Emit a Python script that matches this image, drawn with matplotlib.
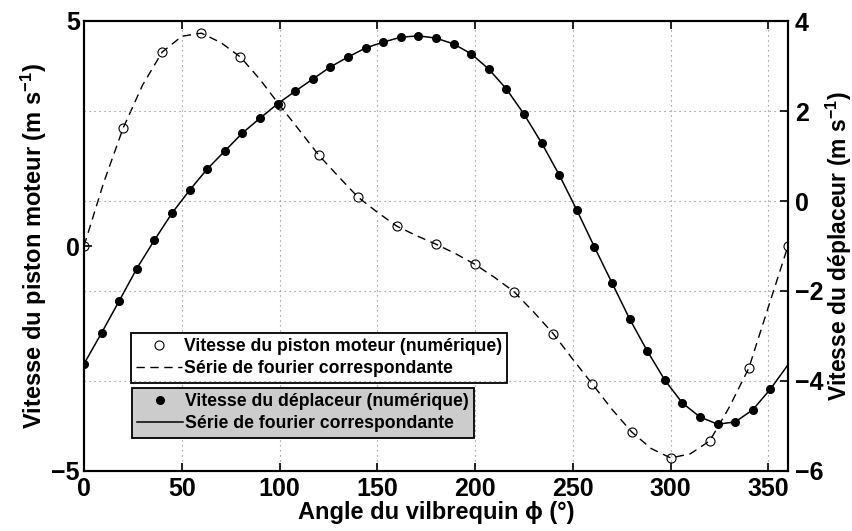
import matplotlib
matplotlib.use("Agg")
import matplotlib.pyplot as plt
import numpy as np

plt.rcParams['font.family'] = ['Liberation Sans', 'DejaVu Sans']
plt.rcParams['font.weight'] = 'bold'
plt.rcParams['mathtext.fontset'] = 'custom'
plt.rcParams['mathtext.rm'] = 'Liberation Sans:bold'
plt.rcParams['mathtext.bf'] = 'Liberation Sans:bold'
plt.rcParams['mathtext.default'] = 'bf'

# piston moteur, numerical points (left axis)
piston_angle = [0, 20, 40, 60, 80, 100, 120, 140, 160, 180,
                200, 220, 240, 260, 280, 300, 320, 340, 360]
piston_speed = [0.0, 2.62, 4.31, 4.73, 4.2, 3.13, 2.02, 1.09, 0.44, 0.04,
                -0.41, -1.02, -1.95, -3.07, -4.13, -4.71, -4.33, -2.71, 0.0]

# piston moteur, fourier series (read every 10 deg)
piston_fourier_angle = [0, 10, 20, 30, 40, 50, 60, 70, 80, 90,
                        100, 110, 120, 130, 140, 150, 160, 170, 180, 190,
                        200, 210, 220, 230, 240, 250, 260, 270, 280, 290,
                        300, 310, 320, 330, 340, 350, 360]
piston_fourier = [0.0, 1.4, 2.62, 3.58, 4.31, 4.66, 4.73, 4.52, 4.2, 3.7,
                  3.13, 2.58, 2.02, 1.55, 1.09, 0.75, 0.44, 0.23, 0.04, -0.17,
                  -0.41, -0.7, -1.02, -1.47, -1.95, -2.52, -3.07, -3.63, -4.13, -4.5,
                  -4.71, -4.62, -4.33, -3.58, -2.71, -1.35, 0.0]

# deplaceur, numerical points (right axis)
depl_angle = [0, 9, 18, 27, 36, 45, 54, 63, 72, 81,
              90, 99, 108, 117, 126, 135, 144, 153, 162, 171,
              180, 189, 198, 207, 216, 225, 234, 243, 252, 261,
              270, 279, 288, 297, 306, 315, 324, 333, 342, 351]
depl_speed = [-3.62, -2.93, -2.22, -1.5, -0.87, -0.27, 0.24, 0.71, 1.11, 1.51,
              1.84, 2.16, 2.44, 2.71, 2.98, 3.2, 3.4, 3.53, 3.64, 3.67,
              3.62, 3.49, 3.27, 2.93, 2.49, 1.93, 1.29, 0.58, -0.2, -1.02,
              -1.82, -2.62, -3.33, -3.98, -4.49, -4.8, -4.96, -4.91, -4.64, -4.18]

# deplaceur, fourier series
depl_fourier_angle = depl_angle + [360]
depl_fourier = depl_speed + [-3.64]

fig = plt.figure(figsize=(8.52, 5.31), dpi=100)
ax = fig.add_axes([84/852, 60/531, 704/852, 450/531])
ax2 = ax.twinx()

ax.plot(piston_angle, piston_speed, 'o', mfc='none', mec='k', ms=6.5, mew=0.8,
        label="Vitesse du piston moteur (numérique)")
ax.plot(piston_fourier_angle, piston_fourier, color='k', lw=1.0,
        linestyle=(0, (6, 4)), label="Série de fourier correspondante")

ax2.plot(depl_angle, depl_speed, 'o', mfc='k', mec='k', ms=5.5,
         label="Vitesse du déplaceur (numérique)")
ax2.plot(depl_fourier_angle, depl_fourier, '-k', lw=1.1,
         label="Série de fourier correspondante")

ax.set_xlim([0, 360])
ax.set_ylim([-5, 5])
ax2.set_ylim([-6, 4])
ax.set_xticks([0, 50, 100, 150, 200, 250, 300, 350])
ax.set_yticks([-5, 0, 5])
ax2.set_yticks([-6, -4, -2, 0, 2, 4])

gridstyle = dict(color='0.5', linestyle=(0, (1, 3.5)), linewidth=0.8)
ax.xaxis.grid(True, **gridstyle)
ax2.yaxis.grid(True, **gridstyle)

for a in (ax, ax2):
    for s in a.spines.values():
        s.set_linewidth(1.5)
ax.tick_params(axis='both', direction='in', length=6, width=1.2,
               labelsize=18, pad=4, top=True)
ax.tick_params(axis='y', pad=3)
ax2.tick_params(axis='y', direction='in', length=6, width=1.2,
                labelsize=18, pad=5)
for lab in ax.get_xticklabels() + ax.get_yticklabels() + ax2.get_yticklabels():
    lab.set_fontweight('bold')

ax.set_xlabel("Angle du vilbrequin ϕ (°)", fontsize=17, fontweight='bold', labelpad=0)
ax.set_ylabel(r"Vitesse du piston moteur (m s$^{-1}$)", fontsize=17,
              fontweight='bold', labelpad=2)
ax2.set_ylabel(r"Vitesse du déplaceur (m s$^{-1}$)", fontsize=16.5,
               fontweight='bold', labelpad=0)

legend_style = dict(loc='upper left', bbox_transform=fig.transFigure,
                    borderaxespad=0, fancybox=False, framealpha=1, edgecolor='k',
                    prop={'size': 12.7, 'weight': 'bold'}, handlelength=2.6,
                    handletextpad=0.1, labelspacing=0.28, borderpad=0.3)
leg1 = ax.legend(bbox_to_anchor=(131/852, 1 - 333/531), **legend_style)
leg1.get_frame().set_linewidth(1.3)
leg2 = ax2.legend(bbox_to_anchor=(132/852, 1 - 388/531), facecolor='#cccccc',
                  **legend_style)
leg2.get_frame().set_linewidth(1.3)

fig.savefig("out.png", dpi=100)
